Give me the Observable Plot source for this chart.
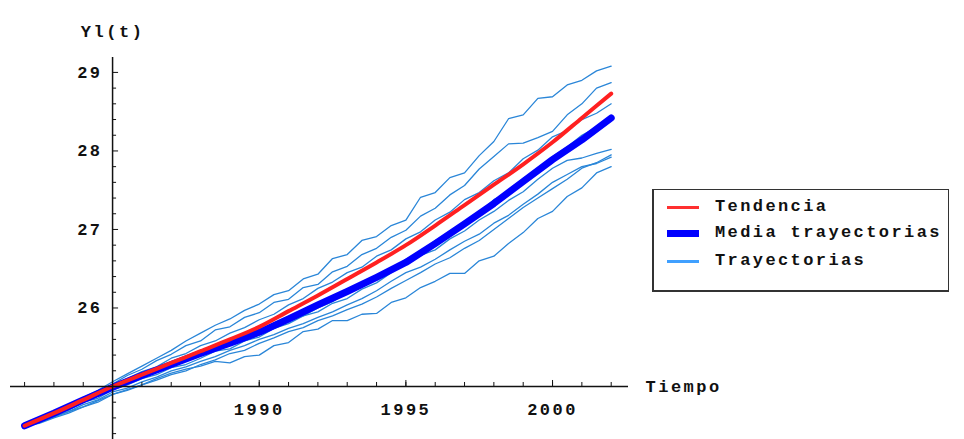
<!DOCTYPE html>
<html><head><meta charset="utf-8">
<script src="https://cdn.jsdelivr.net/npm/d3@7"></script>
<script src="https://cdn.jsdelivr.net/npm/@observablehq/plot@0.6"></script>
<style>
body{margin:0;background:#fff;}
#wrap{position:relative;width:964px;height:439px;overflow:hidden;}
#chart svg text{letter-spacing:2.5px;font-weight:bold;}
#legend{position:absolute;left:652px;top:189px;width:297px;height:103px;box-sizing:border-box;border:1px solid #333;border-left:2px solid #333;border-bottom:2px solid #333;background:#fff;font-family:"Liberation Mono",monospace;font-size:17px;font-weight:bold;letter-spacing:2.4px;color:#111;}
#legend .row{position:absolute;left:0;height:20px;width:100%;}
#legend .sw{position:absolute;left:13px;width:32px;}
#legend .lb{position:absolute;left:61px;top:0;line-height:20px;}
</style>
</head><body>
<div id="wrap"><div id="chart"></div>
<div id="legend">
  <div class="row" style="top:7px"><div class="sw" style="height:3px;background:#ff3030;top:9px"></div><div class="lb">Tendencia</div></div>
  <div class="row" style="top:33px"><div class="sw" style="height:7px;background:#0000ff;top:7px"></div><div class="lb">Media trayectorias</div></div>
  <div class="row" style="top:61px"><div class="sw" style="height:3px;background:#40a0ff;top:9px"></div><div class="lb">Trayectorias</div></div>
</div></div>
<script>
// Yearly axis of the trend and mean series
const years = [1982,1983,1984,1985,1986,1987,1988,1989,1990,1991,1992,1993,1994,1995,1996,1997,1998,1999,2000,2001,2002];
const tendencia = [24.50,24.66,24.83,25.00,25.15,25.30,25.45,25.60,25.76,25.96,26.16,26.37,26.58,26.80,27.05,27.31,27.57,27.83,28.11,28.42,28.73];
const media = [24.50,24.66,24.83,24.99,25.14,25.28,25.42,25.55,25.69,25.86,26.04,26.21,26.39,26.58,26.82,27.07,27.33,27.61,27.89,28.14,28.42];
// Half-year time points for the simulated trajectories
const tHalf = [1982,1982.5,1983,1983.5,1984,1984.5,1985,1985.5,1986,1986.5,1987,1987.5,1988,1988.5,1989,1989.5,1990,1990.5,1991,1991.5,1992,1992.5,1993,1993.5,1994,1994.5,1995,1995.5,1996,1996.5,1997,1997.5,1998,1998.5,1999,1999.5,2000,2000.5,2001,2001.5,2002];
const tray1 = [24.50,24.57,24.68,24.77,24.86,24.95,25.06,25.16,25.26,25.36,25.46,25.58,25.68,25.78,25.86,25.97,26.05,26.17,26.22,26.37,26.43,26.63,26.68,26.86,26.91,27.05,27.12,27.41,27.47,27.66,27.72,27.94,28.12,28.41,28.46,28.67,28.69,28.84,28.90,29.02,29.08];
const tray2 = [24.50,24.60,24.65,24.77,24.85,24.93,25.03,25.14,25.22,25.33,25.41,25.52,25.58,25.72,25.76,25.88,25.94,26.07,26.11,26.26,26.30,26.46,26.53,26.68,26.76,26.90,26.99,27.17,27.27,27.44,27.56,27.77,27.93,28.09,28.10,28.17,28.25,28.46,28.60,28.80,28.87];
const tray3 = [24.50,24.57,24.68,24.74,24.85,24.90,25.02,25.10,25.19,25.25,25.36,25.42,25.52,25.58,25.68,25.75,25.85,25.92,26.04,26.12,26.25,26.33,26.45,26.52,26.66,26.74,26.88,26.97,27.12,27.22,27.38,27.47,27.62,27.72,27.90,28.01,28.18,28.26,28.40,28.48,28.60];
const tray4 = [24.50,24.56,24.65,24.72,24.82,24.88,24.98,25.05,25.12,25.18,25.27,25.32,25.40,25.46,25.54,25.58,25.66,25.74,25.84,25.90,26.00,26.08,26.20,26.28,26.40,26.49,26.62,26.71,26.86,26.96,27.10,27.22,27.38,27.47,27.65,27.76,27.93,28.05,28.20,28.30,28.45];
const tray5 = [24.50,24.55,24.64,24.70,24.80,24.85,24.96,25.02,25.10,25.15,25.24,25.28,25.36,25.45,25.48,25.58,25.63,25.74,25.80,25.90,25.95,26.06,26.12,26.24,26.32,26.45,26.56,26.67,26.74,26.88,26.98,27.12,27.23,27.37,27.48,27.64,27.78,27.88,27.91,27.97,28.02];
const tray6 = [24.50,24.54,24.62,24.68,24.77,24.83,24.93,24.98,25.06,25.12,25.20,25.25,25.32,25.38,25.46,25.52,25.60,25.66,25.74,25.80,25.88,25.95,26.04,26.12,26.22,26.34,26.45,26.52,26.62,26.74,26.85,26.94,27.08,27.18,27.32,27.45,27.60,27.70,27.80,27.84,27.92];
const tray7 = [24.50,24.55,24.61,24.68,24.74,24.82,24.90,24.95,25.02,25.10,25.17,25.22,25.26,25.32,25.30,25.38,25.40,25.52,25.56,25.70,25.73,25.84,25.84,25.92,25.93,26.07,26.13,26.26,26.34,26.44,26.44,26.60,26.66,26.82,26.96,27.14,27.23,27.42,27.53,27.72,27.80];
const tray8 = [24.50,24.53,24.60,24.66,24.74,24.80,24.90,24.96,25.02,25.08,25.15,25.20,25.28,25.34,25.42,25.46,25.55,25.62,25.70,25.75,25.84,25.90,25.98,26.05,26.14,26.25,26.35,26.45,26.56,26.64,26.76,26.86,27.00,27.14,27.28,27.40,27.52,27.64,27.78,27.85,27.95];
// Axis ticks
const xMajor = [1990,1995,2000];
const xMinor = [1982,1983,1984,1986,1987,1988,1989,1990,1991,1992,1993,1994,1995,1996,1997,1998,1999,2000,2001,2002];
const yMajor = [26,27,28,29];
const yMinor = [24.4,24.6,24.8,25.2,25.4,25.6,25.8,26.2,26.4,26.6,26.8,27.2,27.4,27.6,27.8,28.2,28.4,28.6,28.8];
const origin = {x: 1985, y: 25};
const xLabel = "Tiempo", yLabel = "Yl(t)";

const trays = [tray1,tray2,tray3,tray4,tray5,tray6,tray7,tray8];
const trayData = trays.flatMap((arr, k) => arr.map((v, i) => ({id: k, t: tHalf[i], v})));
const trendData = years.map((t, i) => ({t, v: tendencia[i]}));
const meanData = years.map((t, i) => ({t, v: media[i]}));
const font = "'Liberation Mono', monospace";

const chart = Plot.plot({
  width: 964, height: 439,
  marginLeft: 10, marginRight: 336, marginTop: 57, marginBottom: 0,
  x: {domain: [1981.52, 2002.59], axis: null},
  y: {domain: [24.325, 29.19], axis: null},
  style: {fontFamily: font, fontSize: "17px", background: "white", color: "#111"},
  marks: [
    Plot.line(trayData, {x: "t", y: "v", z: "id", stroke: "#2a86d8", strokeWidth: 1.3}),
    Plot.line(meanData, {x: "t", y: "v", stroke: "#0000ff", strokeWidth: 7, strokeLinejoin: "round"}),
    Plot.line(trendData, {x: "t", y: "v", stroke: "#ff2020", strokeWidth: 4, curve: "catmull-rom"}),
    // axes crossing at the origin
    Plot.ruleY([origin.y], {stroke: "#111", strokeWidth: 1.5}),
    Plot.ruleX([origin.x], {stroke: "#111", strokeWidth: 1.5}),
    Plot.ruleX(xMinor, {x: d => d, y1: origin.y, y2: origin.y, insetTop: -4, stroke: "#111"}),
    Plot.ruleX(xMajor, {x: d => d, y1: origin.y, y2: origin.y, insetTop: -6, stroke: "#111"}),
    Plot.ruleY(yMinor, {y: d => d, x1: origin.x, x2: origin.x, insetRight: -4, stroke: "#111"}),
    Plot.ruleY(yMajor, {y: d => d, x1: origin.x, x2: origin.x, insetRight: -6, stroke: "#111"}),
    Plot.text(xMajor, {x: d => d, y: origin.y, text: d => String(d), dy: 23, fill: "#111"}),
    Plot.text(yMajor, {x: origin.x, y: d => d, text: d => String(d), textAnchor: "end", dx: -10, fill: "#111"}),
    Plot.text([xLabel], {x: 2002.59, y: origin.y, text: d => d, textAnchor: "start", dx: 17, fill: "#111"}),
    Plot.text([yLabel], {x: origin.x, frameAnchor: "top", text: d => d, dy: -33, fill: "#111"})
  ]
});
document.getElementById("chart").appendChild(chart);
</script>
</body></html>
